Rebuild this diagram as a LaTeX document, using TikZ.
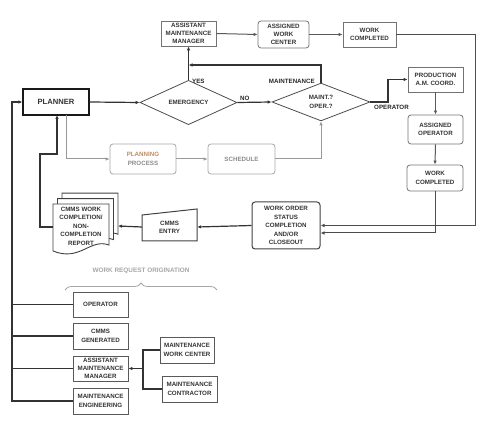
\documentclass[tikz,border=0pt]{standalone}
\usepackage{fontspec}
\setmainfont{Liberation Sans}
\usetikzlibrary{shapes.geometric,arrows.meta,decorations.pathreplacing,calc}
\definecolor{plancol}{RGB}{190,140,95}
\begin{document}
\begin{tikzpicture}[x=1pt,y=-1pt,
  txt/.style={font=\fontsize{6.2}{8.3}\selectfont\bfseries, text=black!80, align=center, inner sep=0pt},
  box/.style={txt, draw=black!65, line width=0.8pt, minimum width=55pt, minimum height=25pt},
  rbox/.style={box, rounded corners=3pt},
  gbox/.style={rbox, draw=black!35, text=black!45},
  dia/.style={txt, diamond, draw=black!70, line width=0.8pt},
  conn/.style={line width=1.2pt, draw=black!80, -{Latex[length=4pt,width=3.5pt]}},
  plain/.style={line width=1.2pt, draw=black!80},
  gconn/.style={line width=1pt, draw=black!40, -{Latex[length=4pt,width=3.5pt]}},
  lbl/.style={font=\fontsize{6.2}{8}\selectfont\bfseries, text=black!85, inner sep=0pt},
]
\useasboundingbox (0,0) rectangle (485,422);

% top row
\node[box, draw=black!55] (amm1) at (188.5,33.5) {ASSISTANT\\MAINTENANCE\\MANAGER};
\node[rbox, draw=black!55, minimum width=51pt, minimum height=27pt] (awc) at (283.5,34.5) {ASSIGNED\\WORK\\CENTER};
\node[box, draw=black!55, minimum width=53pt] (wc1) at (369.5,34.5) {WORK\\COMPLETED};

% main row
\node[box, draw=black!90, line width=1.1pt, minimum width=66pt, minimum height=26pt,
      font=\fontsize{7.6}{9}\selectfont\bfseries] (planner) at (56,102) {PLANNER};
\node[dia, minimum width=97pt, minimum height=35pt] (emerg) at (188.5,102.5) {EMERGENCY};
\node[dia, minimum width=98pt, minimum height=34pt, font=\fontsize{6.2}{9}\selectfont\bfseries] (maint) at (321,102) {MAINT.?\\OPER.?};

% right column
\node[box, draw=black!55] (prod) at (435.5,79.5) {PRODUCTION\\A.M. COORD.};
\node[rbox, draw=black!55, minimum height=29pt] (aop) at (435.5,129.5) {ASSIGNED\\OPERATOR};
\node[rbox, draw=black!55, minimum width=56pt, minimum height=26pt] (wc2) at (435,178) {WORK\\COMPLETED};

% planning row
\node[gbox, minimum width=66pt, minimum height=30pt] (plan) at (143,159) {\textcolor{plancol}{PLANNING}\\PROCESS};
\node[gbox, minimum width=67pt, minimum height=30pt] (sched) at (241.5,159) {SCHEDULE};

% closeout row
\node[rbox, draw=black!75, line width=1pt, minimum width=68pt, minimum height=47pt, font=\fontsize{6.2}{8.5}\selectfont\bfseries] (wos) at (286,225.5) {WORK ORDER\\STATUS\\COMPLETION\\AND/OR\\CLOSEOUT};
\draw[black!75, line width=1pt] (142,215) -- (197,209) -- (197,241) -- (142,241) -- cycle;
\node[txt, minimum width=55pt, minimum height=31pt] (entry) at (169.5,227) {CMMS\\ENTRY};

% report (multi-document)
\foreach \d in {9,4.5,0} {
  \begin{scope}[shift={(\d,-1.2*\d)}]
    \draw[black!75, line width=0.9pt, fill=white] (53,204) -- (109,204) -- (109,245)
      .. controls (90,238) and (80,262) .. (53,251) -- cycle;
  \end{scope}
}
\node[txt, minimum width=56pt, minimum height=44pt, font=\fontsize{6.2}{8.5}\selectfont\bfseries] (report) at (81,226) {CMMS WORK\\COMPLETION/\\NON-\\COMPLETION\\REPORT};
\coordinate (repE) at (118,226);
\coordinate (repW) at (53,227);

% work request origination
\node[font=\fontsize{6.4}{8}\selectfont\bfseries, text=black!35, inner sep=0pt] (wro) at (141,271) {WORK REQUEST ORIGINATION};
\draw[black!35, line width=0.8pt, decorate, decoration={brace, amplitude=7pt}] (65,290) -- (217,290);

\node[box] (op) at (100.5,304.5) {OPERATOR};
\node[box, minimum height=26pt] (cg) at (100.5,336) {CMMS\\GENERATED};
\node[box] (amm2) at (100.5,368.5) {ASSISTANT\\MAINTENANCE\\MANAGER};
\node[box, minimum height=26pt] (meng) at (100.5,401) {MAINTENANCE\\ENGINEERING};
\node[box, minimum width=54pt, minimum height=26pt] (mwc) at (187,350) {MAINTENANCE\\WORK CENTER};
\node[box, minimum height=26pt] (mc) at (189.5,389) {MAINTENANCE\\CONTRACTOR};

% connectors
\draw[conn] (planner.east) -- (emerg.west);
\draw[conn] (emerg.north) -- (amm1.south);
\coordinate (j1) at (188.5,65);
\draw[conn] (maint.north) |- (j1);
\draw[conn, line width=1pt, draw=black!65] (amm1.east) -- (awc.west);
\draw[conn, line width=1pt, draw=black!65] (awc.east) -- (wc1.west);
\draw[conn, line width=1pt, draw=black!70] (wc1.east) -- (475,34.5) |- (wos.east);
\draw[conn] (emerg.east) -- (maint.west);
\draw[conn] (maint.east) -- (388,102) |- (prod.west);
\draw[conn, line width=1pt, draw=black!65] (prod.south) -- (aop.north);
\draw[conn, line width=1pt, draw=black!65] (aop.south) -- (wc2.north);
\draw[conn, line width=1pt, draw=black!70] (wc2.south) |- ($(wos.east)+(0,7.5)$);

\draw[gconn] (66,115) |- (plan.west);
\draw[gconn] (plan.east) -- (sched.west);
\draw[gconn] (sched.east) -| (maint.south);

\draw[conn] (wos.west) -- (entry.east);
\draw[conn] (entry.west) -- (repE);
\draw[conn] (repW) -- (40,227) |- (57,154) -- (57,115);

\draw[conn] (meng.west) -- (12,401) |- (planner.west);
\draw[plain] (op.west) -- (12,304.5);
\draw[plain] (cg.west) -- (12,336);
\draw[plain] (amm2.west) -- (12,368.5);
\draw[plain] (mwc.west) -| (143,368.5);
\draw[plain] (mc.west) -| (143,368.5);
\draw[conn] (143,368.5) -- (amm2.east);

% labels
\node[lbl, anchor=west] at (192,81) {YES};
\node[lbl, anchor=west] at (240,98) {NO};
\node[lbl, anchor=east] at (315,81) {MAINTENANCE};
\node[lbl, anchor=west] at (374,107.5) {OPERATOR};
\end{tikzpicture}
\end{document}
